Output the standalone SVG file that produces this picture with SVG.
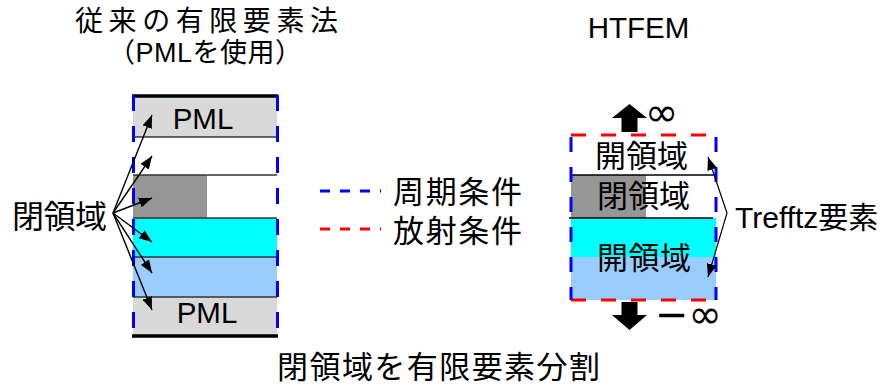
<svg xmlns="http://www.w3.org/2000/svg" width="891" height="387" viewBox="0 0 891 387">
<style>
.t{font-family:"Liberation Sans","Noto Sans CJK JP",sans-serif;fill:#000}
.sep{stroke:#333;stroke-width:1.5;fill:none}
.bd{stroke:#0000ff;stroke-width:3;fill:none}
.rd{stroke:#ff0000;stroke-width:3;fill:none}
.arr{stroke:#000;stroke-width:1.4;fill:none;marker-end:url(#ah)}
.inf{font-family:"DejaVu Sans",sans-serif;fill:#000}
</style>
<defs>
<marker id="ah" markerUnits="userSpaceOnUse" markerWidth="14" markerHeight="10" refX="13" refY="5" orient="auto-start-reverse"><path d="M0,0 L13,5 L0,10 z" fill="#000"/></marker>
</defs>
<rect width="891" height="387" fill="#fff"/>

<g id="title-left">
<text class="t" x="75" y="31" font-size="28" textLength="263" lengthAdjust="spacing">従来の有限要素法</text>
<text class="t" x="108" y="62" font-size="27" textLength="194" lengthAdjust="spacing">（PMLを使用）</text>
</g>
<g id="title-right">
<text class="t" x="638.5" y="38" font-size="29.5" text-anchor="middle">HTFEM</text>
</g>

<g id="fem-block">
<rect x="133" y="96" width="144" height="41" fill="#d9d9d9"/>
<rect x="133" y="137" width="144" height="38" fill="#fff"/>
<rect x="133" y="175" width="74" height="43" fill="#969696"/>
<rect x="133" y="218" width="144" height="39" fill="#00ffff"/>
<rect x="133" y="257" width="144" height="40" fill="#99ccff"/>
<rect x="133" y="297" width="144" height="39" fill="#d9d9d9"/>
<line class="sep" x1="133" y1="137" x2="277" y2="137"/>
<line class="sep" x1="133" y1="175" x2="277" y2="175"/>
<line class="sep" x1="133" y1="218" x2="277" y2="218"/>
<line class="sep" x1="133" y1="257" x2="277" y2="257"/>
<line class="sep" x1="133" y1="297" x2="277" y2="297"/>
<line x1="132" y1="96" x2="278" y2="96" stroke="#000" stroke-width="3.5"/>
<line x1="132" y1="336" x2="278" y2="336" stroke="#000" stroke-width="3.5"/>
<line class="bd" x1="133.5" y1="95" x2="133.5" y2="330" stroke-dasharray="16 15"/>
<line class="bd" x1="277.5" y1="95" x2="277.5" y2="330" stroke-dasharray="16 15"/>
<text class="t" x="203" y="128.5" font-size="29.5" text-anchor="middle">PML</text>
<text class="t" x="207" y="323" font-size="29.5" text-anchor="middle">PML</text>
</g>

<g id="label-closed">
<text class="t" x="12" y="228" font-size="32" textLength="95" lengthAdjust="spacing">閉領域</text>
</g>

<g id="legend">
<line class="bd" x1="320" y1="191" x2="381" y2="191" stroke-dasharray="10 10"/>
<line class="rd" x1="320" y1="229" x2="381" y2="229" stroke-dasharray="10 10"/>
<text class="t" x="393" y="203" font-size="31" textLength="129" lengthAdjust="spacing">周期条件</text>
<text class="t" x="393" y="242" font-size="31" textLength="129" lengthAdjust="spacing">放射条件</text>
</g>

<g id="htfem-block">
<rect x="571" y="135" width="145" height="40" fill="#fff"/>
<rect x="571" y="175" width="75" height="43" fill="#969696"/>
<rect x="571" y="218" width="145" height="39" fill="#00ffff"/>
<rect x="571" y="257" width="145" height="43" fill="#99ccff"/>
<line x1="571" y1="175" x2="715" y2="175" stroke="#000" stroke-width="1.5"/>
<line x1="569" y1="218" x2="713" y2="218" stroke="#000" stroke-width="1.5"/>
<line class="rd" x1="571" y1="135" x2="716" y2="135" stroke-dasharray="15 15"/>
<line class="rd" x1="571" y1="300" x2="716" y2="300" stroke-dasharray="15 15"/>
<line class="bd" x1="571" y1="137" x2="571" y2="300" stroke-dasharray="15 15"/>
<line class="bd" x1="716" y1="137" x2="716" y2="300" stroke-dasharray="15 15"/>
<text class="t" x="595" y="167" font-size="31" textLength="93" lengthAdjust="spacing">開領域</text>
<text class="t" x="597" y="207" font-size="31" textLength="93" lengthAdjust="spacing">閉領域</text>
<text class="t" x="597" y="269" font-size="31" textLength="94" lengthAdjust="spacing">開領域</text>
</g>

<g id="inf-up">
<polygon points="629.5,104 647,118 637.5,118 637.5,132 621.5,132 621.5,118 612,118" fill="#000"/>
<text class="inf" x="645" y="126" font-size="40">∞</text>
</g>
<g id="inf-down">
<polygon points="621.5,302 637.5,302 637.5,315 647,315 629.5,330 612,315 621.5,315" fill="#000"/>
<text class="inf" x="655" y="328" font-size="40">−∞</text>
</g>

<g id="label-trefftz">
<text class="t" x="735" y="228" font-size="30">Trefftz要素</text>
</g>

<g id="caption">
<text class="t" x="277" y="378" font-size="31" textLength="323" lengthAdjust="spacing">閉領域を有限要素分割</text>
</g>

<g id="connectors">
<line class="arr" x1="113" y1="213" x2="152" y2="115"/>
<line class="arr" x1="113" y1="213" x2="152" y2="156"/>
<line class="arr" x1="113" y1="213" x2="152" y2="198"/>
<line class="arr" x1="113" y1="213" x2="152" y2="242"/>
<line class="arr" x1="113" y1="213" x2="152" y2="273"/>
<line class="arr" x1="113" y1="213" x2="152" y2="310"/>
<polyline points="708,157 727,213 708,277" stroke="#000" stroke-width="1.2" fill="none" marker-start="url(#ah)" marker-end="url(#ah)"/>
</g>
</svg>
